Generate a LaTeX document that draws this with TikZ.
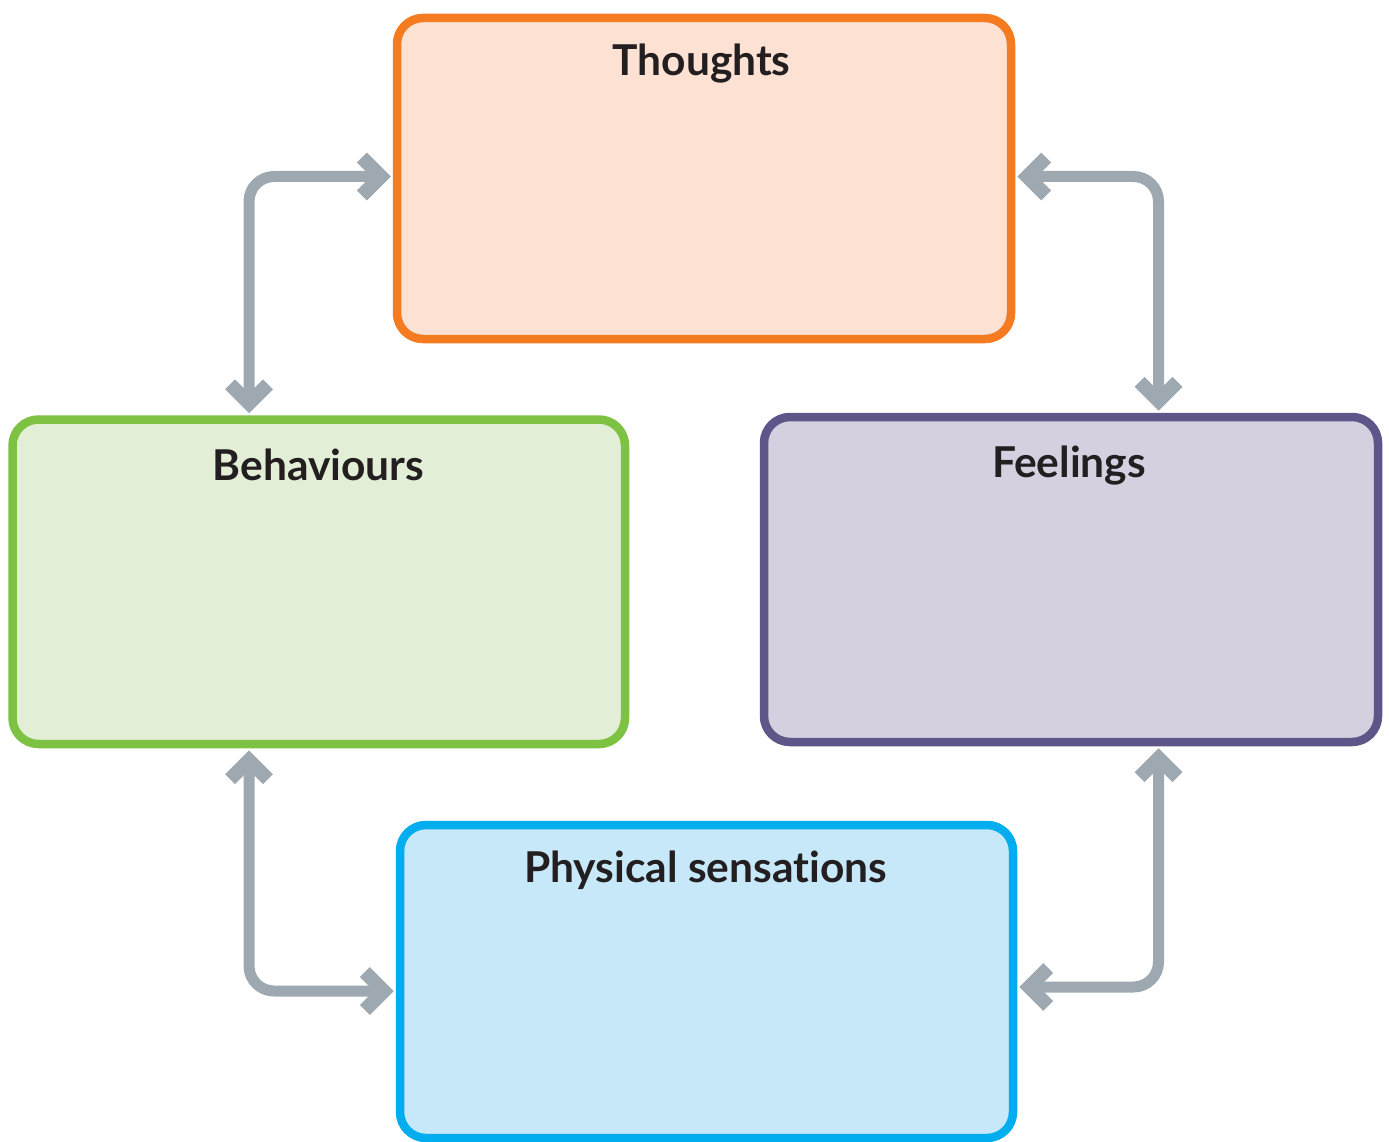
\documentclass[tikz,border=0pt]{standalone}
\usepackage{fontspec}
\setmainfont[Ligatures=NoCommon]{Lato}
\usetikzlibrary{arrows.meta}
\definecolor{txt}{HTML}{231F20}
\definecolor{arr}{HTML}{9EA8B1}
\definecolor{orB}{HTML}{F47B20}\definecolor{orF}{HTML}{FDE2D3}
\definecolor{grB}{HTML}{7DC243}\definecolor{grF}{HTML}{E2EED6}
\definecolor{puB}{HTML}{5E5689}\definecolor{puF}{HTML}{D4D0E0}
\definecolor{blB}{HTML}{00AEEF}\definecolor{blF}{HTML}{C6E8F8}
\begin{document}
\begin{tikzpicture}[x=1pt,y=-1pt,
  box/.style={draw,rectangle,rounded corners=26pt,line width=8.5pt,inner sep=0pt},
  title/.style={anchor=base,text=txt,font=\fontsize{42.5}{50}\selectfont\bfseries},
  barb/.tip={Straight Barb[length=19pt,width=38pt,line width=14pt,line join=miter]},
  link/.style={draw=arr,line width=11pt,rounded corners=25pt,
    barb-barb, shorten <=2pt,shorten >=2pt}]
\useasboundingbox (0,0) rectangle (1389,1142);
\node[box,draw=orB,fill=orF,minimum width=614pt,minimum height=321pt] (thoughts) at (704,178.5) {};
\node[box,draw=grB,fill=grF,minimum width=612.5pt,minimum height=324.5pt] (behav) at (318.75,581.75) {};
\node[box,draw=puB,fill=puF,minimum width=614pt,minimum height=325pt] (feel) at (1071,579.5) {};
\node[box,draw=blB,fill=blF,minimum width=613pt,minimum height=313pt] (phys) at (706.5,981.5) {};
\node[title] (tT) at (701.5,76) {Thoughts};
\node[title] (tB) at (318.5,480) {Behaviours};
\node[title] (tF) at (1069,477) {Feelings};
\node[title] (tP) at (705.5,882) {Physical sensations};
\coordinate (c1) at (249,176.5);
\coordinate (c2) at (1158.5,176.5);
\coordinate (c3) at (249,991);
\coordinate (c4) at (1158.5,987);
\draw[link] (c1 |- behav.north) -- (c1) -- (c1 -| thoughts.west);
\draw[link] (c2 -| thoughts.east) -- (c2) -- (c2 |- feel.north);
\draw[link] (c3 |- behav.south) -- (c3) -- (c3 -| phys.west);
\draw[link] (c4 |- feel.south) -- (c4) -- (c4 -| phys.east);
\end{tikzpicture}
\end{document}
